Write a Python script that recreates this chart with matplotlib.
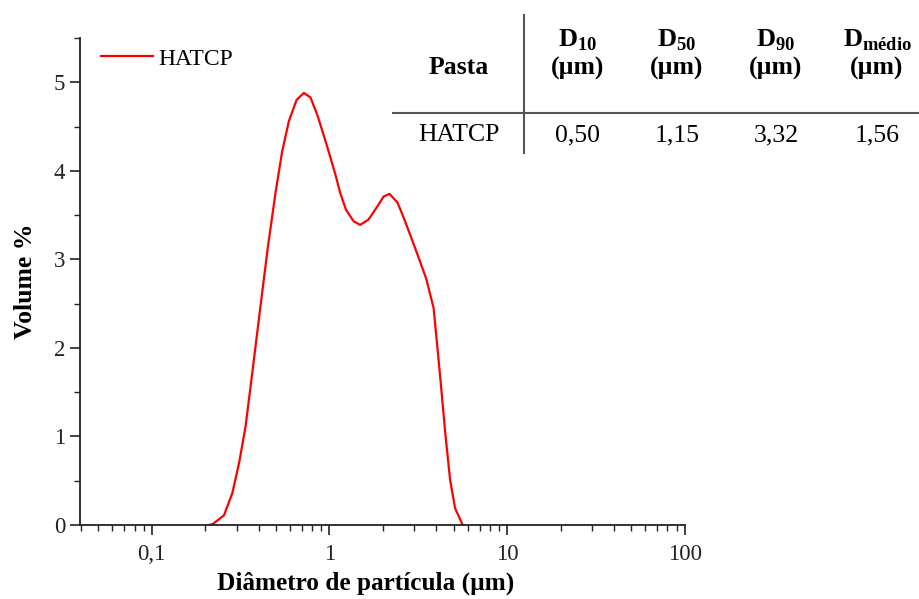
import matplotlib
matplotlib.use("Agg")
import matplotlib.pyplot as plt
from matplotlib.lines import Line2D
from matplotlib.ticker import LogLocator, FixedLocator, MultipleLocator, FuncFormatter

plt.rcParams["font.family"] = ["Liberation Serif", "DejaVu Serif"]
plt.rcParams["mathtext.fontset"] = "custom"
plt.rcParams["mathtext.rm"] = "Liberation Serif"
plt.rcParams["mathtext.bf"] = "Liberation Serif:bold"

# particle size distribution (diameter in µm, volume %)
diameter = [0.209, 0.22, 0.255, 0.284, 0.31, 0.337, 0.368, 0.409, 0.451, 0.497,
            0.542, 0.591, 0.653, 0.718, 0.782, 0.859, 0.97, 1.08, 1.15, 1.24,
            1.37, 1.49, 1.66, 1.85, 2.02, 2.18, 2.42, 2.62, 2.92, 3.18,
            3.51, 3.86, 4.17, 4.49, 4.78, 5.1, 5.63]
volume = [0.0, 0.01, 0.11, 0.36, 0.70, 1.11, 1.72, 2.47, 3.15, 3.75,
          4.22, 4.56, 4.80, 4.88, 4.83, 4.62, 4.28, 3.96, 3.75, 3.56,
          3.43, 3.39, 3.45, 3.59, 3.71, 3.74, 3.64, 3.47, 3.22, 3.02,
          2.78, 2.45, 1.75, 1.04, 0.51, 0.19, 0.0]

# summary table
table_header = ["Pasta", "10", "50", "90", "médio"]
table_row = ["HATCP", "0,50", "1,15", "3,32", "1,56"]

fig = plt.figure(figsize=(9.19, 5.99), dpi=100)
ax = fig.add_axes([0.087, 0.1235, 0.658, 0.813])

ax.plot(diameter, volume, color="red", lw=1.6, label="HATCP")

ax.set_xscale("log")
ax.set_xlim(0.0394, 100)
ax.set_ylim(0, 5.5)
ax.xaxis.set_major_locator(FixedLocator([0.1, 1, 10, 100]))
ax.xaxis.set_minor_locator(LogLocator(base=10, subs=range(2, 10)))
ax.xaxis.set_major_formatter(FuncFormatter(lambda v, p: f"{v:g}".replace(".", ",")))
ax.xaxis.set_minor_formatter(FuncFormatter(lambda v, p: ""))
ax.yaxis.set_major_locator(MultipleLocator(1))
ax.yaxis.set_minor_locator(MultipleLocator(0.5))

for s in ["top", "right"]:
    ax.spines[s].set_visible(False)
for s in ["left", "bottom"]:
    ax.spines[s].set_linewidth(1.3)
    ax.spines[s].set_color("#222222")
ax.tick_params(which="major", length=7, width=1.2, labelsize=16.5, color="#222222", labelcolor="#222222")
ax.tick_params(which="minor", length=4, width=1.0, color="#222222")
ax.tick_params(axis="x", pad=7)

ax.set_xlabel("Diâmetro de partícula (µm)", fontsize=18.2, fontweight="bold", labelpad=6)
ax.xaxis.set_label_coords(0.473, -0.095)
ax.set_ylabel("Volume %", fontsize=18.5, fontweight="bold", labelpad=12)

ax.legend(loc="upper left", bbox_to_anchor=(0.0, 1.023), frameon=False, fontsize=17,
          handlelength=2.2, handletextpad=0.2)

# table in the upper right
W, H = 919, 599
def fx(px):
    return px / W
def fy(py):
    return 1 - py / H

fig.add_artist(Line2D([fx(393), fx(919)], [fy(113), fy(113)], color="#555555", lw=1.5))
fig.add_artist(Line2D([fx(524), fx(524)], [fy(15), fy(153)], color="#555555", lw=1.5))

col_x = [459, 578, 677, 776, 877]
fig.text(fx(col_x[0]), fy(68), table_header[0], ha="center", va="center",
         fontsize=18.5, fontweight="bold")
for cx, sub in zip(col_x[1:], table_header[1:]):
    fig.text(fx(cx), fy(40), r"$\mathbf{D}_{\mathbf{" + sub + "}}$", ha="center", va="center",
             fontsize=19)
    fig.text(fx(cx), fy(68), "(µm)", ha="center", va="center", fontsize=18.5, fontweight="bold")
for cx, val in zip(col_x, table_row):
    fig.text(fx(cx), fy(135), val, ha="center", va="center", fontsize=18.5)

fig.savefig("out.png", dpi=100, facecolor="white")
